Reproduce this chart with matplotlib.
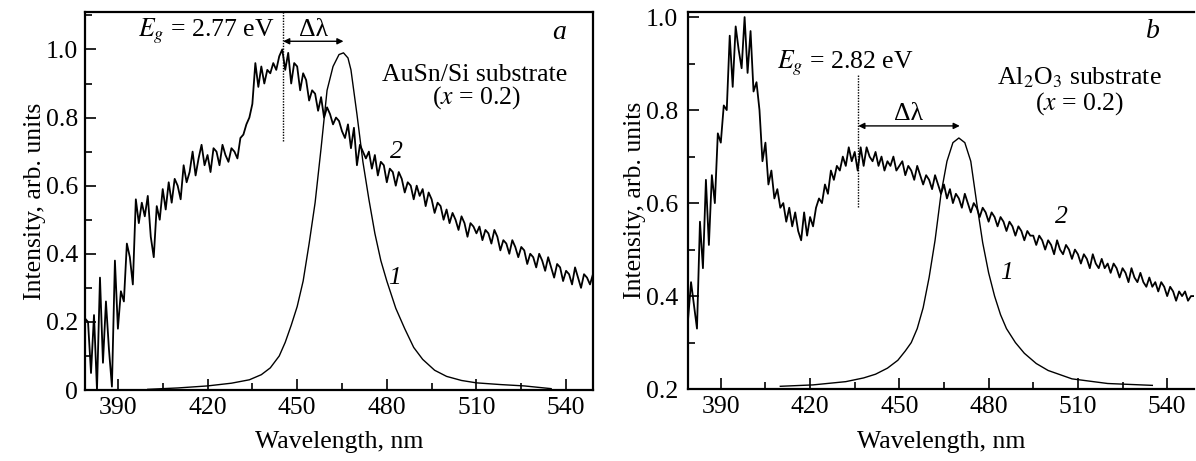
import numpy as np
import matplotlib
matplotlib.use("Agg")
import matplotlib.pyplot as plt
from matplotlib.ticker import MultipleLocator, FixedLocator, FuncFormatter

plt.rcParams['font.family'] = ['Liberation Serif', 'DejaVu Serif']
plt.rcParams['mathtext.fontset'] = 'stix'

# ---- panel a data (AuSn/Si substrate) ----
wl_2a = np.arange(379, 550)
int_2a = [0.21, 0.20, 0.05, 0.22, 0.00, 0.33, 0.08, 0.26, 0.12, 0.01,
          0.38, 0.18, 0.29, 0.26, 0.43, 0.39, 0.31, 0.56, 0.49, 0.55,
          0.51, 0.57, 0.45, 0.39, 0.54, 0.50, 0.59, 0.53, 0.61, 0.55,
          0.62, 0.60, 0.56, 0.66, 0.61, 0.64, 0.70, 0.63, 0.68, 0.72,
          0.66, 0.69, 0.64, 0.71, 0.70, 0.66, 0.72, 0.69, 0.67, 0.71,
          0.70, 0.68, 0.74, 0.75, 0.78, 0.80, 0.84, 0.96, 0.89, 0.95,
          0.90, 0.94, 0.93, 0.96, 0.94, 0.98, 1.00,
          0.94, 0.99, 0.90, 0.96, 0.95, 0.88, 0.93, 0.91, 0.85, 0.88,
          0.87, 0.82, 0.86, 0.80, 0.83, 0.81, 0.78, 0.80, 0.79, 0.76,
          0.74, 0.78, 0.71, 0.77, 0.66,
          0.72, 0.70, 0.68, 0.70, 0.65, 0.69, 0.63, 0.67, 0.66, 0.61,
          0.65, 0.64, 0.60, 0.64, 0.62, 0.58, 0.61, 0.60, 0.56, 0.60,
          0.57, 0.59, 0.54, 0.58, 0.56, 0.52, 0.55, 0.54, 0.50, 0.53,
          0.49, 0.52, 0.50, 0.47, 0.51, 0.49, 0.45, 0.49, 0.48, 0.46,
          0.48, 0.44, 0.47, 0.46, 0.43, 0.47, 0.45, 0.41, 0.44, 0.43,
          0.40, 0.44, 0.42, 0.39, 0.42, 0.41, 0.37, 0.40, 0.39, 0.36,
          0.40, 0.38, 0.35, 0.39, 0.36, 0.33, 0.37, 0.36, 0.32, 0.35,
          0.34, 0.31, 0.36, 0.33, 0.30, 0.34, 0.33, 0.31, 0.34]

wl_1a = [400, 410, 420, 428, 434, 438, 441, 444, 446, 448, 450, 452, 454,
         456, 458, 460, 462, 464, 465.5, 467, 468, 470, 472, 474, 476, 478,
         480, 483, 486, 489, 492, 496, 500, 505, 510, 518, 526, 535]
int_1a = [0.002, 0.006, 0.012, 0.02, 0.03, 0.045, 0.065, 0.10, 0.14, 0.19,
          0.245, 0.32, 0.43, 0.55, 0.71, 0.88, 0.95, 0.985, 0.99, 0.975,
          0.94, 0.81, 0.67, 0.56, 0.46, 0.38, 0.32, 0.24, 0.18, 0.125,
          0.09, 0.058, 0.04, 0.028, 0.021, 0.016, 0.012, 0.004]

# ---- panel b data (Al2O3 substrate) ----
wl_2b = np.arange(379, 550)
int_2b = [0.35, 0.43, 0.38, 0.33, 0.56, 0.46, 0.65, 0.51, 0.66, 0.60,
          0.75, 0.73, 0.81, 0.80, 0.96, 0.85, 0.98, 0.93, 0.89, 1.00,
          0.88, 0.97, 0.84, 0.86, 0.80, 0.69, 0.73, 0.64, 0.67, 0.61,
          0.63, 0.59, 0.60, 0.56, 0.59, 0.55, 0.58, 0.54, 0.52, 0.58,
          0.53, 0.57, 0.55, 0.59, 0.61, 0.60, 0.64, 0.62, 0.67, 0.65,
          0.68, 0.67, 0.70, 0.68, 0.72, 0.69, 0.71, 0.67, 0.72, 0.68,
          0.72, 0.70, 0.69, 0.71, 0.68, 0.70, 0.67, 0.69, 0.68, 0.70,
          0.67, 0.68, 0.69, 0.66, 0.68, 0.67, 0.65, 0.68, 0.66, 0.64,
          0.66, 0.65, 0.63, 0.66, 0.64, 0.62, 0.64, 0.61, 0.63, 0.60,
          0.62, 0.61, 0.59, 0.62, 0.60, 0.58, 0.60, 0.59, 0.57, 0.59,
          0.58, 0.56, 0.58, 0.57, 0.55, 0.57, 0.56, 0.54, 0.56, 0.55,
          0.53, 0.55, 0.54, 0.52, 0.54, 0.53, 0.53, 0.51, 0.53, 0.52,
          0.50, 0.52, 0.51, 0.49, 0.52, 0.50, 0.49, 0.51, 0.50, 0.48,
          0.50, 0.49, 0.47, 0.49, 0.48, 0.46, 0.49, 0.47, 0.46, 0.48,
          0.46, 0.47, 0.45, 0.47, 0.46, 0.44, 0.46, 0.45, 0.43, 0.46,
          0.44, 0.43, 0.45, 0.43, 0.42, 0.44, 0.42, 0.43, 0.41, 0.43,
          0.42, 0.40, 0.42, 0.41, 0.39, 0.41, 0.40, 0.41, 0.39, 0.40,
          0.40]

wl_1b = [410, 421, 432, 438, 442, 446, 449.5, 452, 454, 456, 458, 460, 462,
         464, 466, 468, 470, 472, 474, 476, 478, 480, 482, 484, 486, 489,
         492, 496, 500, 508, 520, 535]
int_1b = [0.206, 0.209, 0.216, 0.224, 0.232, 0.245, 0.262, 0.282, 0.30,
          0.33, 0.375, 0.44, 0.52, 0.62, 0.69, 0.73, 0.74, 0.73, 0.69,
          0.60, 0.515, 0.45, 0.40, 0.36, 0.33, 0.30, 0.277, 0.255, 0.24,
          0.222, 0.212, 0.208]

fig = plt.figure(figsize=(11.96, 4.61), dpi=100)
ax_a = fig.add_axes([0.0711, 0.154, 0.4247, 0.820])
ax_b = fig.add_axes([0.5753, 0.156, 0.4230, 0.818])

fs = 18.5   # tick labels / axis titles
fa = 18.5   # annotations


def style_axis(ax, ylo, yhi, yticks, ypad):
    ax.set_xlim(379, 549)
    ax.set_ylim(ylo, yhi)
    ax.xaxis.set_major_locator(FixedLocator([390, 420, 450, 480, 510, 540]))
    ax.xaxis.set_minor_locator(FixedLocator([405, 435, 465, 495, 525]))
    ax.yaxis.set_major_locator(FixedLocator(yticks))
    ax.yaxis.set_minor_locator(MultipleLocator(0.1))
    ax.yaxis.set_major_formatter(FuncFormatter(lambda v, p: '0' if abs(v) < 1e-9 else '%.1f' % v))
    ax.tick_params(which='both', direction='in', top=False, right=False,
                   labelsize=fs, width=1.2)
    ax.tick_params(which='major', length=8)
    ax.tick_params(axis='x', which='major', pad=5)
    ax.tick_params(axis='y', which='major', pad=ypad)
    ax.tick_params(which='minor', length=5)
    for s in ax.spines.values():
        s.set_linewidth(1.6)
    ax.set_xlabel('Wavelength, nm', fontsize=fs, labelpad=9)
    ax.set_ylabel('Intensity, arb. units', fontsize=fs, labelpad=0)


# panel a
style_axis(ax_a, 0, 1.11, [0, 0.2, 0.4, 0.6, 0.8, 1.0], 5)
ax_a.plot(wl_2a, int_2a, color='black', lw=1.3)
ax_a.plot(wl_1a, int_1a, color='black', lw=1.0)
ax_a.plot([445.1, 445.1], [0.73, 1.11], color='black', lw=1.0, ls=(0, (1, 1)))
ax_a.annotate('', xy=(445.3, 1.024), xytext=(465.5, 1.024),
              arrowprops=dict(arrowstyle='<|-|>', color='black', lw=1.0,
                              mutation_scale=9, shrinkA=0, shrinkB=0))
ax_a.text(455.3, 1.058, 'Δλ', fontsize=fa, ha='center', va='center')
ax_a.text(442.3, 1.052, r'$E_g$ = 2.77 eV', fontsize=fa, ha='right', va='center')
ax_a.text(537.5, 1.05, 'a', fontsize=20, style='italic', ha='center', va='center')
ax_a.text(509.5, 0.925, 'AuSn/Si substrate', fontsize=fa, ha='center', va='center')
ax_a.text(510, 0.858, '($x$ = 0.2)', fontsize=fa, ha='center', va='center')
ax_a.text(483.2, 0.70, '2', fontsize=fa, style='italic', ha='center', va='center')
ax_a.text(482.7, 0.33, '1', fontsize=fa, style='italic', ha='center', va='center')

# panel b
style_axis(ax_b, 0.2, 1.011, [0.2, 0.4, 0.6, 0.8, 1.0], 7)
ax_b.spines['right'].set_visible(False)
ax_b.plot(wl_2b, int_2b, color='black', lw=1.3)
ax_b.plot(wl_1b, int_1b, color='black', lw=1.0)
ax_b.plot([436.0, 436.0], [0.592, 0.875], color='black', lw=1.0, ls=(0, (1, 1)))
ax_b.annotate('', xy=(436.2, 0.766), xytext=(470.3, 0.766),
              arrowprops=dict(arrowstyle='<|-|>', color='black', lw=1.0,
                              mutation_scale=9, shrinkA=0, shrinkB=0))
ax_b.text(453.2, 0.791, 'Δλ', fontsize=fa, ha='center', va='center')
ax_b.text(431.8, 0.90, r'$E_g$ = 2.82 eV', fontsize=fa, ha='center', va='center')
ax_b.text(535.3, 0.97, 'b', fontsize=20, style='italic', ha='center', va='center')
ax_b.text(510.5, 0.870, r'Al$_2$O$_3$ substrate', fontsize=fa, ha='center', va='center')
ax_b.text(510.5, 0.815, '($x$ = 0.2)', fontsize=fa, ha='center', va='center')
ax_b.text(504.4, 0.57, '2', fontsize=fa, style='italic', ha='center', va='center')
ax_b.text(486.0, 0.45, '1', fontsize=fa, style='italic', ha='center', va='center')

fig.savefig('out.png', dpi=100)
